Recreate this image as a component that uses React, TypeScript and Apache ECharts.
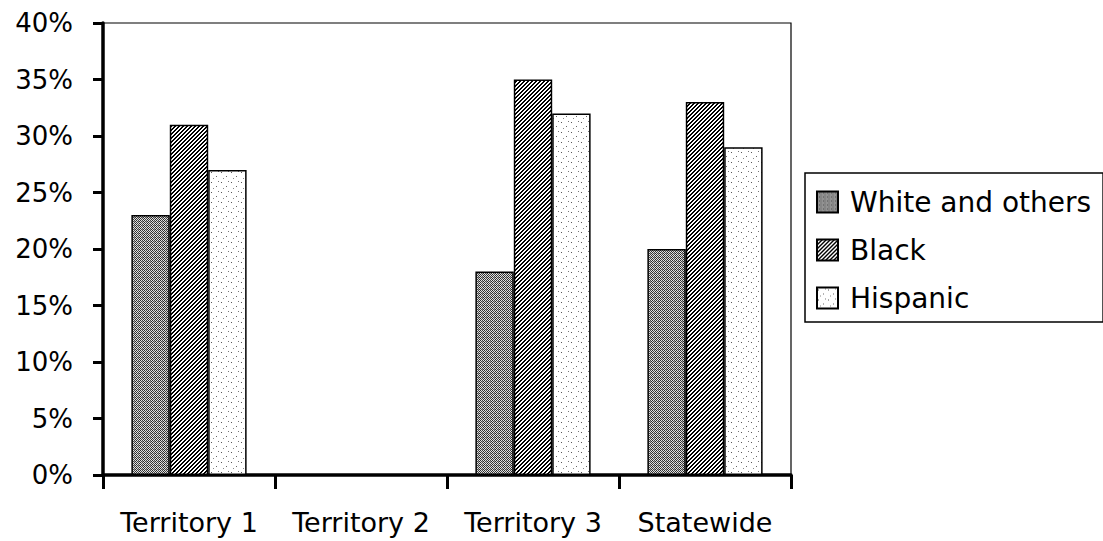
import React, { useEffect, useRef } from "react";
import * as echarts from "echarts";

const categories = ["Territory 1", "Territory 2", "Territory 3", "Statewide"];
const seriesNames = ["White and others", "Black", "Hispanic"];
const whiteAndOthers = [23, null, 18, 20];
const black = [31, null, 35, 33];
const hispanic = [27, null, 32, 29];
const yMin = 0;
const yMax = 40;
const yInterval = 5;

function makePattern(size: number, paint: (ctx: CanvasRenderingContext2D) => void) {
  const c = document.createElement("canvas");
  c.width = size;
  c.height = size;
  const ctx = c.getContext("2d") as CanvasRenderingContext2D;
  ctx.fillStyle = "#ffffff";
  ctx.fillRect(0, 0, size, size);
  paint(ctx);
  return { image: c, repeat: "repeat", imageWidth: size, imageHeight: size } as any;
}

function ditherPattern() {
  return makePattern(4, (ctx) => {
    for (let y = 0; y < 4; y++) {
      for (let x = 0; x < 4; x++) {
        const dark = (x + y) % 2 === 0;
        ctx.fillStyle = dark ? (x % 3 === 0 ? "#2a2a2a" : "#444444") : (y === 1 && x === 2 ? "#a0a0a0" : "#e0e0e0");
        ctx.fillRect(x, y, 1, 1);
      }
    }
  });
}

function hatchPattern() {
  return makePattern(4, (ctx) => {
    for (let y = 0; y < 4; y++) {
      for (let x = 0; x < 4; x++) {
        const m = (x + y) % 4;
        if (m === 0 || m === 1) {
          ctx.fillStyle = "#000000";
          ctx.fillRect(x, y, 1, 1);
        }
      }
    }
  });
}

function dotPattern() {
  return makePattern(10, (ctx) => {
    const dots: [number, number, string][] = [
      [1, 2, "#555555"],
      [6, 6, "#666666"],
      [3, 8, "#888888"],
      [8, 1, "#777777"],
    ];
    for (const [x, y, c] of dots) {
      ctx.fillStyle = c;
      ctx.fillRect(x, y, 1, 1);
    }
  });
}

export default function App() {
  const ref = useRef<HTMLDivElement>(null);

  useEffect(() => {
    if (!ref.current) return;
    const chart = echarts.init(ref.current, null, { renderer: "svg" });
    const fills = [ditherPattern(), hatchPattern(), dotPattern()];
    const values = [whiteAndOthers, black, hispanic];
    const font = "DejaVu Sans";

    chart.setOption({
      animation: false,
      backgroundColor: "#ffffff",
      grid: {
        left: 103,
        right: 312,
        top: 23,
        bottom: 66,
        containLabel: false,
        outerBoundsMode: "none",
        show: true,
        borderColor: "#000",
        borderWidth: 1.2,
        backgroundColor: "transparent",
      },
      legend: {
        orient: "vertical",
        left: 805,
        top: 173,
        padding: [15, 12, 10, 11],
        itemWidth: 21,
        itemHeight: 21,
        itemGap: 20,
        icon: "rect",
        borderColor: "#000",
        borderWidth: 1.5,
        backgroundColor: "#fff",
        selectedMode: false,
        data: seriesNames,
        textStyle: {
          fontFamily: font,
          fontSize: 28,
          color: "#000",
          padding: [0, 0, 0, 7],
        },
      },
      xAxis: {
        type: "category",
        data: categories,
        boundaryGap: true,
        axisLine: { show: true, lineStyle: { color: "#000", width: 3.5 } },
        axisTick: { show: true, length: 14, lineStyle: { color: "#000", width: 3 } },
        axisLabel: {
          interval: 0,
          margin: 34,
          color: "#000",
          fontFamily: font,
          fontSize: 27,
        },
        splitLine: { show: false },
      },
      yAxis: {
        type: "value",
        min: yMin,
        max: yMax,
        interval: yInterval,
        axisLine: { show: true, lineStyle: { color: "#000", width: 3.5 } },
        axisTick: { show: true, length: 10, lineStyle: { color: "#000", width: 3 } },
        axisLabel: {
          margin: 30,
          color: "#000",
          fontFamily: font,
          fontSize: 26,
          formatter: "{value}%",
        },
        splitLine: { show: false },
      },
      series: seriesNames.map((name, i) => ({
        name,
        type: "bar",
        data: values[i],
        barGap: "0%",
        barCategoryGap: "33%",
        itemStyle: {
          color: fills[i],
          borderColor: "#000",
          borderWidth: 1.5,
        },
        emphasis: { disabled: true },
      })),
    });

    return () => {
      chart.dispose();
    };
  }, []);

  return (
    <div
      ref={ref}
      style={{ position: "fixed", left: 0, top: 0, width: 1103, height: 541, background: "#fff" }}
    />
  );
}
